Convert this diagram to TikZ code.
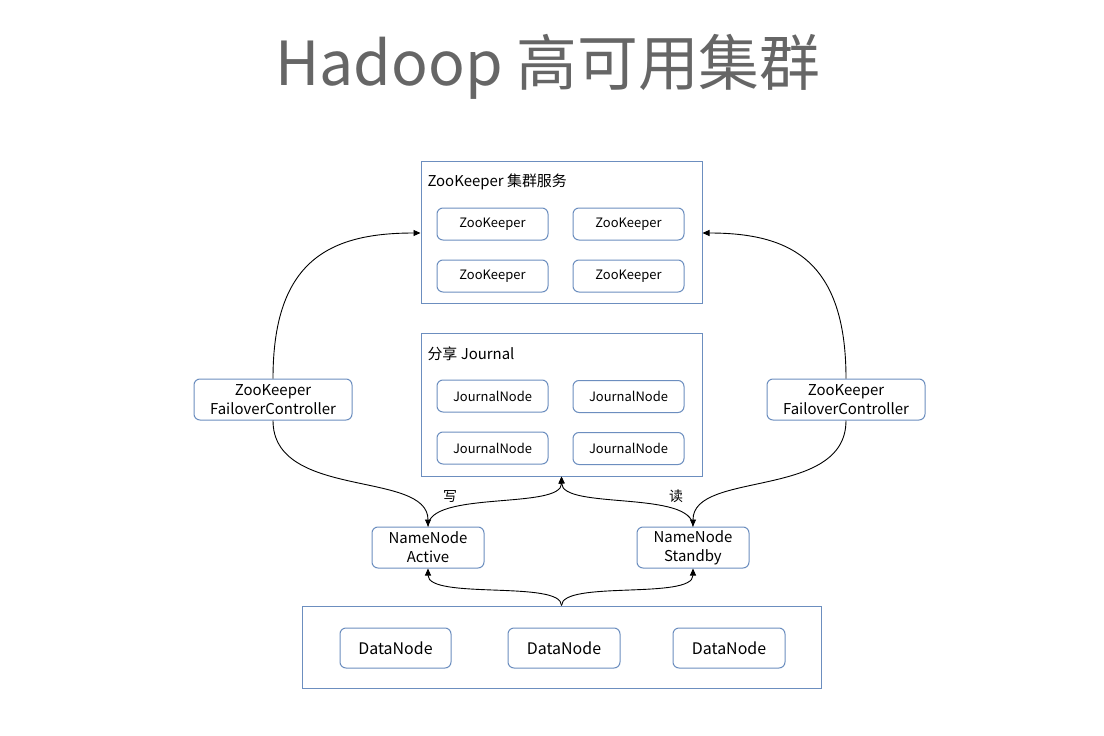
\documentclass[tikz,border=0pt]{standalone}
\usepackage{fontspec}
\setmainfont{Noto Sans CJK SC}
\usetikzlibrary{arrows.meta}
\definecolor{bord}{HTML}{6C8EBF}
\definecolor{ttl}{HTML}{666666}
\begin{document}
\begin{tikzpicture}[x=1bp,y=-1bp,
  grp/.style={draw=bord,line width=1bp,rectangle,inner sep=0pt},
  rbox/.style={draw=bord,line width=1bp,rounded corners=6bp,inner sep=0pt,align=center,font=\fontsize{13}{15}\selectfont},
  bigbox/.style={rbox,font=\fontsize{15}{17}\selectfont},
  two/.style={font=\fontsize{15}{19}\selectfont},
  arr/.style={draw=black,line width=0.9bp,-{Triangle[length=7bp,width=6bp]}}
]
\useasboundingbox (0,0) rectangle (1104,736);
\fill[white] (0,0) rectangle (1104,736);
% title
\node[text=ttl,font=\fontsize{61}{70}\selectfont] (title) at (548,67) {Hadoop 高可用集群};
% ZooKeeper cluster
\node[grp,minimum width=281bp,minimum height=141bp] (zk) at (561.5,232.5) {};
\node[anchor=west,font=\fontsize{15}{17}\selectfont] (zkl) at (424,182) {ZooKeeper 集群服务};
\node[rbox,minimum width=111bp,minimum height=32bp] (zk1) at (492.5,224) {ZooKeeper};
\node[rbox,minimum width=111bp,minimum height=32bp] (zk2) at (628.5,224) {ZooKeeper};
\node[rbox,minimum width=111bp,minimum height=32bp] (zk3) at (492.5,276) {ZooKeeper};
\node[rbox,minimum width=111bp,minimum height=32bp] (zk4) at (628.5,276) {ZooKeeper};
% Journal
\node[grp,minimum width=281bp,minimum height=143bp] (jn) at (561.5,404.5) {};
\node[anchor=west,font=\fontsize{15}{17}\selectfont] (jnl) at (424,354) {分享 Journal};
\node[rbox,minimum width=111bp,minimum height=32bp] (jn1) at (492.5,396) {JournalNode};
\node[rbox,minimum width=111bp,minimum height=32bp] (jn2) at (628.5,396.5) {JournalNode};
\node[rbox,minimum width=111bp,minimum height=32bp] (jn3) at (492.5,448) {JournalNode};
\node[rbox,minimum width=111bp,minimum height=32bp] (jn4) at (628.5,448.5) {JournalNode};
% ZKFC
\node[bigbox,two,minimum width=158bp,minimum height=41bp] (fcl) at (273,399.5) {ZooKeeper\\FailoverController};
\node[bigbox,two,minimum width=158bp,minimum height=41bp] (fcr) at (846,399.5) {ZooKeeper\\FailoverController};
% NameNodes
\node[bigbox,two,minimum width=112bp,minimum height=41bp] (nna) at (428,547.5) {NameNode\\Active};
\node[bigbox,two,minimum width=112bp,minimum height=41bp] (nns) at (693,547.5) {NameNode\\Standby};
% DataNodes
\node[grp,minimum width=519bp,minimum height=82bp] (dn) at (561.5,647) {};
\node[bigbox,minimum width=111bp,minimum height=40bp,font=\fontsize{16}{18}\selectfont] (dn1) at (395.5,648) {DataNode};
\node[bigbox,minimum width=112bp,minimum height=40bp,font=\fontsize{16}{18}\selectfont] (dn2) at (564,648) {DataNode};
\node[bigbox,minimum width=112bp,minimum height=40bp,font=\fontsize{16}{18}\selectfont] (dn3) at (729,648) {DataNode};
% connectors
\draw[arr] (fcl.north) .. controls (273,260) and (330,233) .. (zk.west |- 0,233);
\draw[arr] (fcr.north) .. controls (846,260) and (790,233) .. (zk.east |- 0,233);
\draw[arr] (fcl.south) .. controls (273,500) and (428,470) .. (nna.north);
\draw[arr] (fcr.south) .. controls (846,500) and (693,470) .. (nns.north);
\draw[arr] (nna.north) .. controls (428,490) and (562,510) .. (jn.south);
\draw[arr] (nns.north) .. controls (693,490) and (562,510) .. (jn.south);
\draw[arr] (dn.north) .. controls (562,580) and (428,600) .. (nna.south);
\draw[arr] (dn.north) .. controls (562,580) and (693,600) .. (nns.south);
% labels
\node[font=\fontsize{14}{16}\selectfont] (w) at (450,496) {写};
\node[font=\fontsize{14}{16}\selectfont] (r) at (676,496) {读};
\end{tikzpicture}
\end{document}
